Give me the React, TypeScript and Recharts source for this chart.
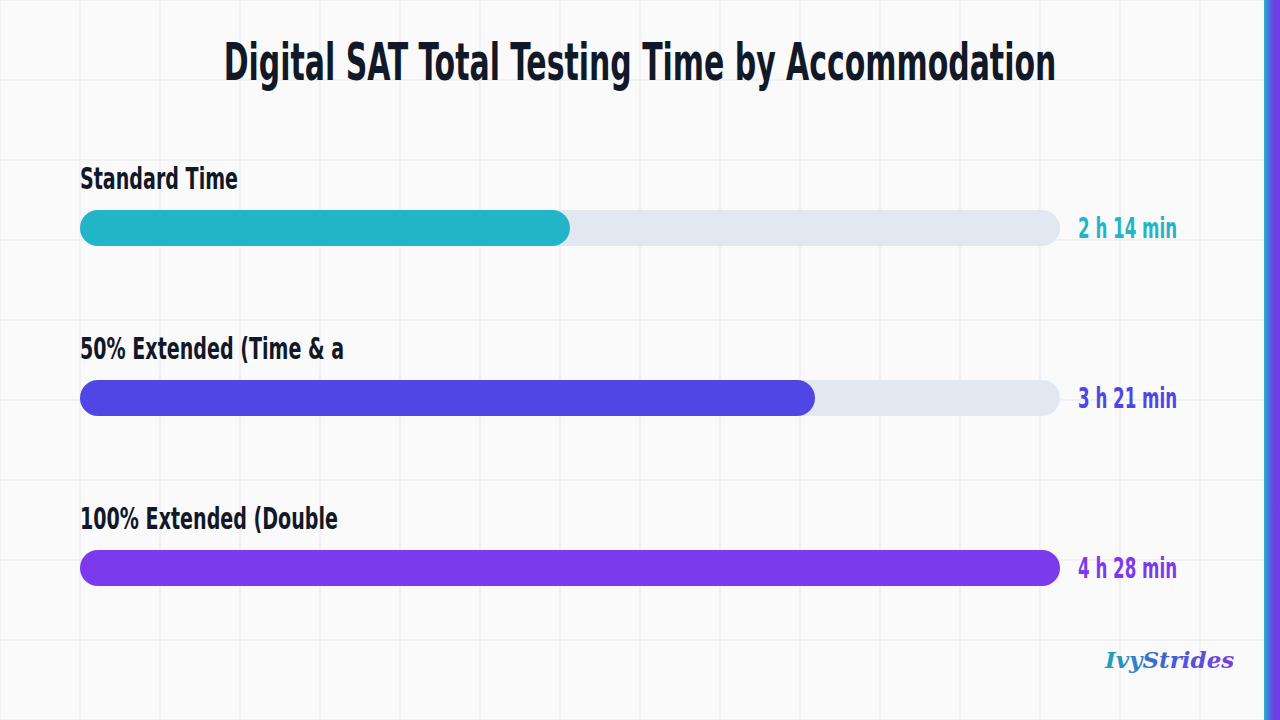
import React from 'react';
import { BarChart, Bar, XAxis, YAxis, Cell, LabelList } from 'recharts';

const categories = ['Standard Time', '50% Extended (Time & a', '100% Extended (Double'];
const minutes = [134, 201, 268];
const valueLabels = ['2 h 14 min', '3 h 21 min', '4 h 28 min'];
const barColors = ['#22b5c8', '#4f46e5', '#7c3aed'];
const maxMinutes = 268;

const TITLE = 'Digital SAT Total Testing Time by Accommodation';
const FONT = '"DejaVu Sans Condensed", "DejaVu Sans", sans-serif';
const INK = '#111827';
const PLOT_RIGHT = 1060;

const data = categories.map((name, i) => ({
  name,
  minutes: minutes[i],
  label: valueLabels[i],
}));

const CategoryLabel = (props: any) => {
  const { x, y, value } = props;
  return (
    <text
      transform={`translate(${x}, ${y - 21}) scale(0.685, 1)`}
      fill={INK}
      fontFamily={FONT}
      fontWeight={700}
      fontSize={31}
    >
      {value}
    </text>
  );
};

const ValueLabel = (props: any) => {
  const { y, height, value, index } = props;
  return (
    <text
      transform={`translate(${PLOT_RIGHT + 18}, ${y + height / 2 + 10}) scale(0.64, 1)`}
      fill={barColors[index % barColors.length]}
      fontFamily={FONT}
      fontWeight={700}
      fontSize={29}
    >
      {value}
    </text>
  );
};

export default function App() {
  return (
    <div
      style={{
        position: 'fixed',
        left: 0,
        top: 0,
        width: 1280,
        height: 720,
        overflow: 'hidden',
        backgroundColor: '#fafafb',
        backgroundImage:
          'linear-gradient(to right, #f1f1f3 2px, transparent 2px), linear-gradient(to bottom, #f1f1f3 2px, transparent 2px)',
        backgroundSize: '80px 80px',
        backgroundPosition: '-1px -1px',
      }}
    >
      <div
        style={{
          position: 'absolute',
          left: 1264,
          top: 0,
          width: 16,
          height: 720,
          background: 'linear-gradient(90deg, #22b3c6 0%, #4d6fe0 30%, #6444e6 60%, #6d3ce6 100%)',
        }}
      />
      <svg width={1280} height={720} style={{ position: 'absolute', left: 0, top: 0 }}>
        <defs>
          <linearGradient id="logoGrad" x1="0" y1="0" x2="1" y2="0">
            <stop offset="0%" stopColor="#1fa3b8" />
            <stop offset="50%" stopColor="#3f5fd8" />
            <stop offset="100%" stopColor="#7a3ce6" />
          </linearGradient>
        </defs>
        <text
          transform="translate(640, 80) scale(0.64, 1)"
          textAnchor="middle"
          fill={INK}
          fontFamily={FONT}
          fontWeight={700}
          fontSize={52}
        >
          {TITLE}
        </text>
        <text
          x={1105}
          y={668}
          fill="url(#logoGrad)"
          fontFamily='"DejaVu Serif", serif'
          fontStyle="italic"
          fontWeight={700}
          fontSize={23}
        >
          IvyStrides
        </text>
      </svg>
      <div style={{ position: 'absolute', left: 0, top: 0 }}>
        <BarChart
          width={1280}
          height={720}
          data={data}
          layout="vertical"
          margin={{ top: 143, right: 1280 - PLOT_RIGHT, bottom: 67, left: 80 }}
        >
          <XAxis type="number" domain={[0, maxMinutes]} hide />
          <YAxis type="category" dataKey="name" hide />
          <Bar
            dataKey="minutes"
            barSize={36}
            radius={18}
            background={{ fill: '#e2e8f0', radius: 18 }}
            isAnimationActive={false}
          >
            {data.map((d, i) => (
              <Cell key={d.name} fill={barColors[i % barColors.length]} />
            ))}
            <LabelList dataKey="name" content={CategoryLabel} />
            <LabelList dataKey="label" content={ValueLabel} />
          </Bar>
        </BarChart>
      </div>
    </div>
  );
}
